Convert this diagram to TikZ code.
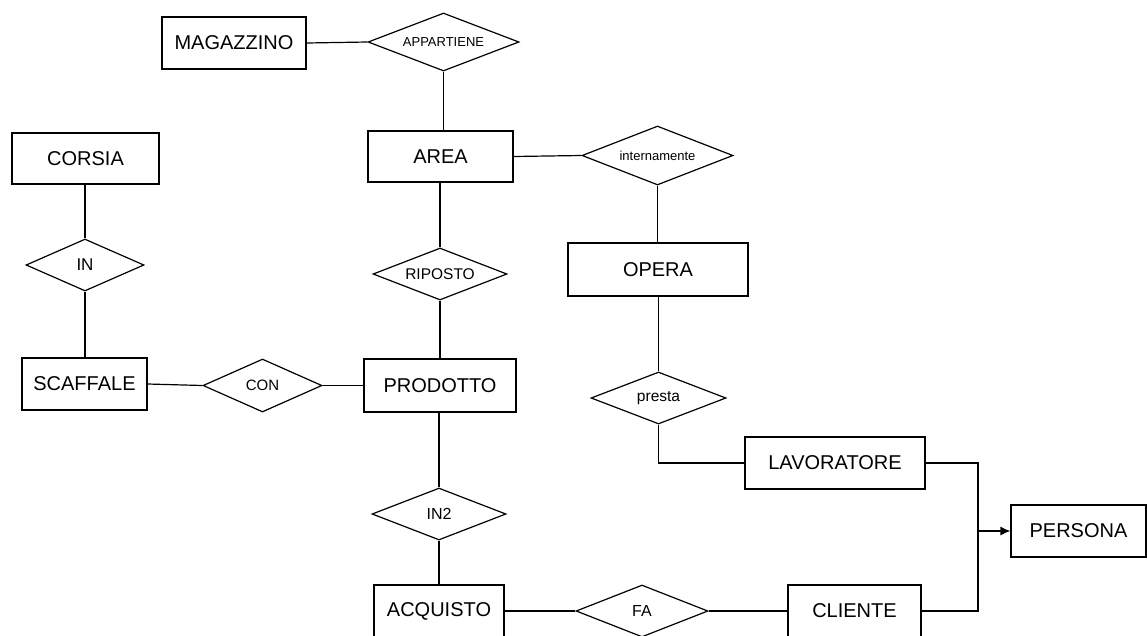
\documentclass[tikz,border=0pt]{standalone}
\usepackage{fontspec}
\setmainfont{Liberation Sans}
\usetikzlibrary{shapes.geometric,arrows.meta}
\tikzset{
  ent/.style={draw, rectangle, inner sep=0pt, font=\fontsize{20}{23}\selectfont},
  rel/.style={draw, diamond, shape aspect=2.6, inner sep=0pt},
  conn/.style={line width=1.2pt},
}
\begin{document}
\begin{tikzpicture}[x=1pt, y=-1pt, line width=1.2pt]
\useasboundingbox (0,0) rectangle (1147,635);
\clip (0,0) rectangle (1147,635);
% entities
\node[ent, minimum width=144pt, minimum height=52pt] (mag) at (234,43) {MAGAZZINO};
\node[ent, minimum width=145pt, minimum height=51pt] (area) at (440.5,156.5) {AREA};
\node[ent, minimum width=147pt, minimum height=51pt] (corsia) at (85.5,158.5) {CORSIA};
\node[ent, minimum width=125pt, minimum height=52pt] (scaff) at (84.5,384) {SCAFFALE};
\node[ent, minimum width=180pt, minimum height=53pt] (opera) at (658,269.5) {OPERA};
\node[ent, minimum width=152pt, minimum height=53pt] (prod) at (440,385.5) {PRODOTTO};
\node[ent, minimum width=180pt, minimum height=52pt] (lav) at (835,463) {LAVORATORE};
\node[ent, minimum width=130pt, minimum height=52pt] (acq) at (439,611) {ACQUISTO};
\node[ent, minimum width=133pt, minimum height=52pt] (cli) at (854.5,611) {CLIENTE};
\node[ent, minimum width=135pt, minimum height=52pt] (pers) at (1078.5,531) {PERSONA};
% relationships
\node[rel, minimum width=151pt, minimum height=58pt, font=\fontsize{13}{15}\selectfont] (app) at (443.5,42) {APPARTIENE};
\node[rel, minimum width=151pt, minimum height=59pt, font=\fontsize{13}{15}\selectfont] (int) at (657.5,155.5) {internamente};
\node[rel, minimum width=118pt, minimum height=52pt, font=\fontsize{17}{19}\selectfont] (in) at (85,265) {IN};
\node[rel, minimum width=119pt, minimum height=53pt, font=\fontsize{15}{17}\selectfont] (con) at (262.5,385.5) {CON};
\node[rel, minimum width=134pt, minimum height=52pt, font=\fontsize{15.5}{17}\selectfont] (rip) at (440,274) {RIPOSTO};
\node[rel, minimum width=135pt, minimum height=52pt, font=\fontsize{15.5}{17}\selectfont] (presta) at (658.5,398) {presta};
\node[rel, minimum width=134pt, minimum height=52pt, font=\fontsize{16}{18}\selectfont] (in2) at (439,514) {IN2};
\node[rel, minimum width=132pt, minimum height=52pt, font=\fontsize{16}{18}\selectfont] (fa) at (642,611) {FA};
% connectors
\draw[conn] (mag.east) -- (app.west);
\draw[conn] (app.south) -- (app.south |- area.north);
\draw[conn] (area.east) -- (int.west);
\draw[conn] (int.south) -- (int.south |- opera.north);
\draw[conn] (rip.north |- area.south) -- (rip.north);
\draw[conn] (rip.south) -- (rip.south |- prod.north);
\draw[conn] (in2.north |- prod.south) -- (in2.north);
\draw[conn] (in2.south) -- (in2.south |- acq.north);
\draw[conn] (in.north |- corsia.south) -- (in.north);
\draw[conn] (in.south) -- (in.south |- scaff.north);
\draw[conn] (scaff.east) -- (con.west);
\draw[conn] (con.east) -- (prod.west);
\draw[conn] (presta.north |- opera.south) -- (presta.north);
\draw[conn] (presta.south) |- (lav.west);
\draw[conn] (acq.east) -- (fa.west);
\draw[conn] (fa.east) -- (cli.west);
\coordinate (j) at (978,531);
\draw[conn] (lav.east) -| (j);
\draw[conn] (cli.east) -| (j);
\draw[conn, -{Latex[length=10pt,width=9pt]}] (j) -- (pers.west);
\end{tikzpicture}
\end{document}
